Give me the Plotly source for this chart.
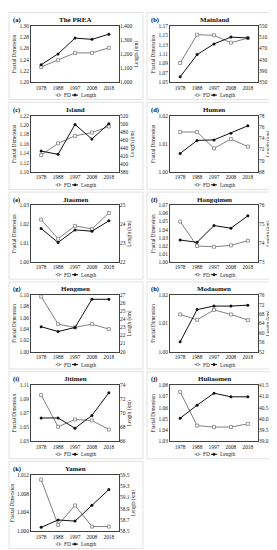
import plotly.graph_objects as go

# ---------------- data ----------------
years = ["1978", "1988", "1997", "2008", "2018"]
panel_letters = ["(a)", "(b)", "(c)", "(d)", "(e)", "(f)", "(g)", "(h)", "(i)", "(j)", "(k)"]
panel_names = ["The PREA", "Mainland", "Island", "Humen", "Jiaomen", "Hongqimen",
               "Hengmen", "Modaomen", "Jitimen", "Huliaomen", "Yamen"]

fd_prea = [1.227, 1.239, 1.252, 1.252, 1.261]
len_prea = [1124, 1201, 1313, 1304, 1341]
fd_mainland = [1.091, 1.151, 1.150, 1.134, 1.144]
len_mainland = [369, 448, 486, 510, 507]
fd_island = [1.136, 1.161, 1.177, 1.184, 1.197]
len_island = [432, 424, 498, 462, 500]
fd_humen = [1.0142, 1.0142, 1.0084, 1.0117, 1.0090]
len_humen = [71.3, 73.6, 73.7, 74.9, 76.2]
fd_jiaomen = [1.0225, 1.0123, 1.0191, 1.0175, 1.0260]
len_jiaomen = [23.77, 23.03, 23.70, 23.63, 24.18]
fd_hongqimen = [1.050, 1.0196, 1.0187, 1.0204, 1.0263]
len_hongqimen = [74.16, 74.04, 74.93, 74.79, 75.45]
fd_hengmen = [1.0976, 1.0488, 1.0429, 1.0488, 1.040]
len_hengmen = [23.09, 22.5, 23.0, 26.5, 26.5]
fd_modaomen = [1.0132, 1.0113, 1.0148, 1.0132, 1.0112]
len_modaomen = [56.2, 69.9, 71.4, 71.4, 71.8]
fd_jitimen = [1.0958, 1.0509, 1.0611, 1.0598, 1.0469]
len_jitimen = [69.33, 69.33, 67.87, 69.69, 72.9]
fd_huliaomen = [1.074, 1.044, 1.0428, 1.0428, 1.0456]
len_huliaomen = [40.03, 40.61, 41.14, 40.98, 40.98]
fd_yamen = [1.011, 1.00135, 1.0055, 1.001, 1.001]
len_yamen = [58.57, 58.70, 58.68, 58.96, 59.24]

fd_series = [fd_prea, fd_mainland, fd_island, fd_humen, fd_jiaomen, fd_hongqimen,
             fd_hengmen, fd_modaomen, fd_jitimen, fd_huliaomen, fd_yamen]
len_series = [len_prea, len_mainland, len_island, len_humen, len_jiaomen, len_hongqimen,
              len_hengmen, len_modaomen, len_jitimen, len_huliaomen, len_yamen]

# axis scales: (min, max, step)
fd_axes = [(1.20, 1.30, 0.02), (1.05, 1.17, 0.02), (1.10, 1.22, 0.02), (1.00, 1.02, 0.01),
           (1.00, 1.03, 0.01), (1.00, 1.07, 0.01), (1.00, 1.10, 0.02), (1.00, 1.02, 0.01),
           (1.03, 1.11, 0.02), (1.03, 1.08, 0.01), (1.000, 1.012, 0.004)]
len_axes = [(1000, 1400, 100), (350, 550, 40), (380, 520, 20), (68, 78, 2),
            (22, 25, 1), (73, 76, 1), (20, 27, 1), (52, 76, 4),
            (66, 74, 2), (39.0, 41.5, 0.5), (58.5, 59.5, 0.2)]
fd_formats = [".2f"] * 10 + [".3f"]
len_formats = [",d", "d", "d", "d", "d", "d", "d", "d", "d", ".1f", ".1f"]

# ---------------- layout helpers ----------------
W, H = 277, 550
FONT = "Liberation Serif"
FD_COLOR = "#808080"
LEN_COLOR = "#111111"
TXT = "#1a1a1a"
TICK = 5.4


def px(x):
    return x / W


def py(y):
    return 1 - y / H


fig = go.Figure()
layout = dict(
    width=W, height=H, margin=dict(l=0, r=0, t=0, b=0),
    paper_bgcolor="white", plot_bgcolor="white", showlegend=False,
    font=dict(family=FONT, size=TICK, color=TXT),
)
annotations = []
shapes = []

for i in range(len(panel_names)):
    c, r = i % 2, i // 2
    ox = 0 if c == 0 else 138
    oy = r * 90.8
    x0 = ox + (23 if c == 0 else 24)
    x1 = x0 + 88
    y0 = oy + 15
    y1 = oy + 72
    k = i + 1
    xname = "x" if k == 1 else f"x{k}"
    yl = 2 * i + 1
    yr = 2 * i + 2
    ylname = "y" if yl == 1 else f"y{yl}"
    yrname = f"y{yr}"

    fig.add_trace(go.Scatter(
        x=years, y=fd_series[i], xaxis=xname, yaxis=ylname, mode="lines+markers",
        name="FD", line=dict(color=FD_COLOR, width=1),
        marker=dict(symbol="square", size=3, color="white",
                    line=dict(color=FD_COLOR, width=0.8))))
    fig.add_trace(go.Scatter(
        x=years, y=len_series[i], xaxis=xname, yaxis=yrname, mode="lines+markers",
        name="Length", line=dict(color=LEN_COLOR, width=1),
        marker=dict(symbol="circle", size=3, color=LEN_COLOR)))

    axkey = "xaxis" if k == 1 else f"xaxis{k}"
    layout[axkey] = dict(
        domain=[px(x0), px(x1)], anchor=ylname, type="category",
        range=[-0.6, 4.6], showline=True, mirror=True, linecolor="#404040",
        linewidth=0.8, showgrid=False, zeroline=False, ticks="",
        tickfont=dict(size=TICK, family=FONT, color=TXT), fixedrange=True)
    fmin, fmax, fstep = fd_axes[i]
    layout["yaxis" if yl == 1 else f"yaxis{yl}"] = dict(
        domain=[py(y1), py(y0)], anchor=xname, range=[fmin, fmax],
        tick0=fmin, dtick=fstep, tickformat=fd_formats[i],
        showline=True, mirror=True, linecolor="#404040", linewidth=0.8,
        showgrid=False, zeroline=False, ticks="",
        tickfont=dict(size=TICK, family=FONT, color=TXT),
        title=dict(text="Fractal Dimension", font=dict(size=5.2, family=FONT, color=TXT), standoff=2),
        fixedrange=True)
    lmin, lmax, lstep = len_axes[i]
    layout[f"yaxis{yr}"] = dict(
        overlaying=ylname, side="right", anchor=xname, range=[lmin, lmax],
        tick0=lmin, dtick=lstep, tickformat=len_formats[i],
        showline=False, showgrid=False, zeroline=False, ticks="",
        tickfont=dict(size=TICK, family=FONT, color=TXT),
        title=dict(text="Length (km)", font=dict(size=5.2, family=FONT, color=TXT), standoff=2),
        fixedrange=True)

    cx = (x0 + x1) / 2
    # panel border
    bx0, bx1 = (1, 135) if c == 0 else (139, 275)
    shapes.append(dict(type="rect", xref="paper", yref="paper",
                       x0=px(bx0), x1=px(bx1), y0=py(oy + 89.5), y1=py(oy + 1.5),
                       line=dict(color="#d9d9d9", width=0.8)))
    # letter and title
    annotations.append(dict(text="<b>" + panel_letters[i] + "</b>", xref="paper", yref="paper",
                            x=px(ox + 3), y=py(oy + 9), xanchor="left", yanchor="middle",
                            showarrow=False, font=dict(size=6.5, family=FONT, color="#111111")))
    annotations.append(dict(text="<b>" + panel_names[i] + "</b>", xref="paper", yref="paper",
                            x=px(cx), y=py(oy + 9), xanchor="center", yanchor="middle",
                            showarrow=False, font=dict(size=7, family=FONT, color="#111111")))
    # legend (manual, compact)
    ly = oy + 85
    sx = cx - 19.5
    shapes.append(dict(type="line", xref="paper", yref="paper", x0=px(sx), x1=px(sx + 6),
                       y0=py(ly), y1=py(ly), line=dict(color=FD_COLOR, width=1)))
    shapes.append(dict(type="rect", xref="paper", yref="paper", x0=px(sx + 1.8), x1=px(sx + 4.2),
                       y0=py(ly + 1.2), y1=py(ly - 1.2), fillcolor="white",
                       line=dict(color=FD_COLOR, width=0.7)))
    annotations.append(dict(text="FD", xref="paper", yref="paper", x=px(sx + 6.5), y=py(ly),
                            xanchor="left", yanchor="middle", showarrow=False,
                            font=dict(size=TICK, family=FONT, color=TXT)))
    lx = cx - 3
    shapes.append(dict(type="line", xref="paper", yref="paper", x0=px(lx), x1=px(lx + 6),
                       y0=py(ly), y1=py(ly), line=dict(color=LEN_COLOR, width=1)))
    shapes.append(dict(type="circle", xref="paper", yref="paper", x0=px(lx + 1.8), x1=px(lx + 4.2),
                       y0=py(ly + 1.2), y1=py(ly - 1.2), fillcolor=LEN_COLOR,
                       line=dict(color=LEN_COLOR, width=0.5)))
    annotations.append(dict(text="Length", xref="paper", yref="paper", x=px(lx + 6.5), y=py(ly),
                            xanchor="left", yanchor="middle", showarrow=False,
                            font=dict(size=TICK, family=FONT, color=TXT)))

layout["annotations"] = annotations
layout["shapes"] = shapes
fig.update_layout(**layout)
fig.write_html("out.html")
